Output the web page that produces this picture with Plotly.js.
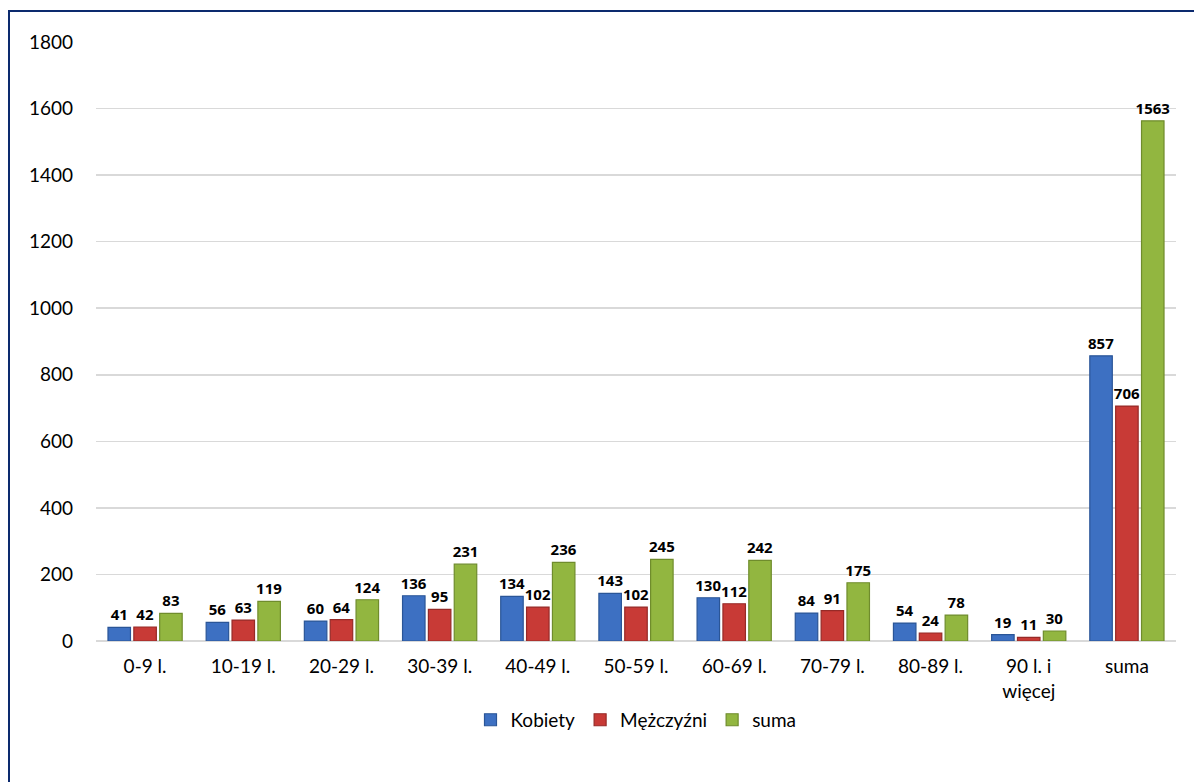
<!DOCTYPE html>
<html><head><meta charset="utf-8">
<script src="https://cdn.plot.ly/plotly-3.0.1.min.js"></script>
<style>
html,body{margin:0;padding:0;background:#fff;}
#wrap{position:absolute;left:0;top:0;width:1194px;height:782px;}
#frame{position:absolute;left:8px;top:10px;width:1186px;height:772px;border-left:2px solid #0c2a6e;border-top:2px solid #0c2a6e;pointer-events:none;}
#chart{position:absolute;left:0;top:0;width:1194px;height:782px;}
</style></head>
<body>
<div id="wrap"><div id="chart"></div><div id="frame"></div></div>
<script>
const categories = ["0-9 l.","10-19 l.","20-29 l.","30-39 l.","40-49 l.","50-59 l.","60-69 l.","70-79 l.","80-89 l.","90 l. i<br>więcej","suma"];
const kobiety = [41,56,60,136,134,143,130,84,54,19,857];
const mezczyzni = [42,63,64,95,102,102,112,91,24,11,706];
const suma = [83,119,124,231,236,245,242,175,78,30,1563];
const yTicks = [0,200,400,600,800,1000,1200,1400,1600,1800];

function tr(name, y, color, line){
  return {type:'bar', name:name, x:categories, y:y, text:y.map(String),
    textposition:'outside', cliponaxis:false, constraintext:'none',
    textfont:{family:'Open Sans, Lato, sans-serif', size:15, color:'#000', weight:700},
    marker:{color:color, line:{color:line, width:1.2}}};
}
const data = [
  tr('Kobiety', kobiety, '#3d70c2', '#2a5597'),
  tr('Mężczyźni', mezczyzni, '#c83a36', '#962a27'),
  tr('suma', suma, '#92b640', '#6f8c2c')
];
const layout = {
  width:1194, height:782,
  margin:{l:96, r:18, t:42, b:141},
  paper_bgcolor:'#fff', plot_bgcolor:'#fff',
  barmode:'group', bargap:0.21, bargroupgap:0.13,
  font:{family:'Lato, Open Sans, sans-serif', size:18, color:'#000'},
  xaxis:{type:'category', tickfont:{size:19}, showline:false, ticks:'', showgrid:false, automargin:false, ticklabelstandoff:12},
  yaxis:{range:[0,1800], tickvals:yTicks, ticktext:yTicks.map(String), showgrid:true, gridcolor:'#d9d9d9', gridwidth:1.5,
    zeroline:true, zerolinecolor:'#d9d9d9', zerolinewidth:1.5, showline:false, ticks:'', ticklabelstandoff:22,
    tickfont:{size:19}, automargin:false},
  legend:{orientation:'h', x:0.5, xanchor:'center', y:-0.1, yanchor:'top', font:{size:19}, itemwidth:30, traceorder:'normal'},
  showlegend:true
};
Plotly.newPlot('chart', data, layout, {displayModeBar:false, staticPlot:true});
</script>
</body></html>
